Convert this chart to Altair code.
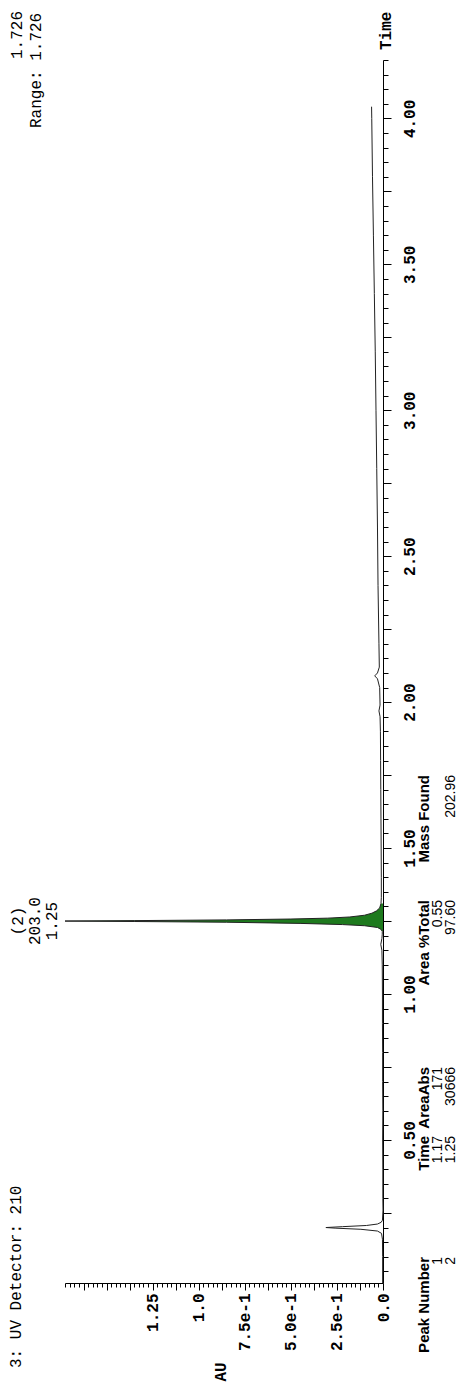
import altair as alt
import pandas as pd

# ---------------- data ----------------
TRACE_TIME = [0.01, 0.10, 0.16, 0.180, 0.188, 0.194, 0.198, 0.200, 0.203, 0.207, 0.212, 0.218, 0.225,
              0.26, 0.30, 0.40, 0.50, 0.60, 0.70, 0.80, 0.90, 1.00, 1.10, 1.15, 1.17, 1.19, 1.205,
              1.215, 1.222, 1.228, 1.234, 1.238, 1.242, 1.246, 1.2485, 1.250, 1.2515, 1.254, 1.257,
              1.260, 1.264, 1.270, 1.277, 1.285, 1.295, 1.31, 1.33, 1.40, 1.50, 1.60, 1.70, 1.80,
              1.90, 1.95, 1.97, 1.99, 2.05, 2.08, 2.09, 2.10, 2.12, 2.20, 2.40, 2.60, 2.80, 3.00,
              3.20, 3.40, 3.60, 3.80, 4.00, 4.04]
TRACE_AU = [0.002, 0.002, 0.003, 0.008, 0.03, 0.12, 0.26, 0.31, 0.22, 0.09, 0.03, 0.01, 0.003,
            0.0, 0.001, 0.001, 0.002, 0.001, 0.002, 0.002, 0.003, 0.003, 0.004, 0.006, 0.012, 0.006, 0.004,
            0.004, 0.012, 0.03, 0.10, 0.22, 0.45, 0.85, 1.35, 1.726, 1.35, 0.85, 0.50,
            0.30, 0.18, 0.10, 0.06, 0.035, 0.018, 0.011, 0.009, 0.009, 0.010, 0.011, 0.012, 0.013,
            0.014, 0.016, 0.022, 0.016, 0.018, 0.03, 0.045, 0.03, 0.02, 0.022, 0.027, 0.030, 0.034, 0.038,
            0.042, 0.047, 0.052, 0.057, 0.061, 0.062]

PEAK_START = 1.215   # integrated (green) region of peak 2
PEAK_END = 1.31

APEX_TIME = [1.25]
APEX_AU = [1.726]
APEX_LINES = ["(2)", "203.0", "1.25"]

TABLE_HEADERS = ["Peak Number", "Time", "AreaAbs", "Area %Total", "Mass Found"]
TABLE_ROW1 = ["1", "1.17", "171", "0.55", ""]
TABLE_ROW2 = ["2", "1.25", "30666", "97.60", "202.96"]

AU_LABEL_VALUES = [0.0, 0.25, 0.5, 0.75, 1.0, 1.25]
AU_LABEL_TEXTS = ["0.0", "2.5e-1", "5.0e-1", "7.5e-1", "1.0", "1.25"]

TITLE_TEXT = "3: UV Detector: 210"
RANGE_TEXT = "Range: 1.726"
MAX_TEXT = "1.726"

# ---------------- layout ----------------
PAD_L, PAD_T, PAD_R, PAD_B = 57, 52, 80, 99
W, H = 318, 1223


def px(page_x):
    return page_x - 8 - PAD_L


def py(page_y):
    return page_y - 8 - PAD_T


MONO = "Liberation Mono"
SANS = "Liberation Sans"

trace = pd.DataFrame({"time": TRACE_TIME, "au": TRACE_AU})
fill = trace[(trace.time >= PEAK_START) & (trace.time <= PEAK_END)]
apex = pd.DataFrame({"time": APEX_TIME, "au": APEX_AU, "label": ["\n".join(APEX_LINES)]})

# axes
time_ticks = [round(0.05 * i, 2) for i in range(1, 85)]
time_axis = alt.Axis(
    orient="right", values=time_ticks, title=None, grid=False,
    labelExpr="round(datum.value*100) % 50 == 0 ? format(datum.value, '.2f') : ''",
    tickSize={"condition": {"test": "round(datum.value*100) % 25 == 0", "value": 8}, "value": 5},
    labelAngle=270, labelAlign="center", labelBaseline="middle", labelPadding=18,
    labelFont=MONO, labelFontSize=16, labelFontWeight="bold", labelColor="black",
    labelOverlap=False, labelFlush=False, tickColor="black", domainColor="black",
)

au_expr = "''"
for v, t in reversed(list(zip(AU_LABEL_VALUES, AU_LABEL_TEXTS))):
    au_expr = f"round(datum.value*1000) == {int(round(v * 1000))} ? '{t}' : " + au_expr
au_ticks = [round(0.025 * i, 3) for i in range(0, 70)]
au_axis = alt.Axis(
    orient="bottom", values=au_ticks, title=None, grid=False,
    labelExpr=au_expr,
    tickSize={"condition": {"test": "round(datum.value*1000) % 125 == 0", "value": 7}, "value": 4},
    labelAngle=270, labelAlign="right", labelBaseline="middle", labelPadding=3,
    labelFont=MONO, labelFontSize=16, labelFontWeight="bold", labelColor="black",
    labelOverlap=False, labelFlush=False, tickColor="black", domainColor="black",
)

xs = alt.Scale(domain=[0, 1.726], reverse=True, nice=False, zero=False)
ys = alt.Scale(domain=[0.01, 4.2], nice=False, zero=False)
X = alt.X("au:Q", scale=xs, axis=au_axis)
Y = alt.Y("time:Q", scale=ys, axis=time_axis)

area = alt.Chart(fill).mark_area(orient="horizontal", color="#1e7a1e").encode(x=X, y=Y)
line = alt.Chart(trace).mark_line(color="#222222", strokeWidth=1).encode(x=X, y=Y, order="time:Q")
ann = alt.Chart(apex).mark_text(
    angle=270, align="center", baseline="middle", lineBreak="\n", lineHeight=17, dy=-47,
    font=MONO, fontSize=16, color="black"
).encode(x=X, y=Y, text="label:N")


def label_layer(text, page_x, page_y, align, size, weight, font):
    return alt.Chart(pd.DataFrame({"label": [text]})).mark_text(
        angle=270, align=align, baseline="middle", font=font, fontSize=size,
        fontWeight=weight, color="black"
    ).encode(x=alt.value(px(page_x)), y=alt.value(py(page_y)), text="label:N")


layers = [area, line, ann]
layers.append(label_layer(TITLE_TEXT, 16, 1368, "left", 16, "normal", MONO))
layers.append(label_layer(MAX_TEXT, 17, 59, "left", 16, "normal", MONO))
layers.append(label_layer(RANGE_TEXT, 36, 128, "left", 16, "normal", MONO))
layers.append(label_layer("Time", 386, 50, "left", 16, "bold", MONO))
layers.append(label_layer("AU", 221, 1372, "center", 16, "bold", MONO))

col_top = [1257, 1136, 1067, 900, 775]
row_x = [424, 438, 451]
for j in range(len(TABLE_HEADERS)):
    for r, row in enumerate([TABLE_HEADERS, TABLE_ROW1, TABLE_ROW2]):
        txt = row[j]
        if not txt:
            continue
        layers.append(label_layer(txt, row_x[r], col_top[j], "right",
                                  15 if r == 0 else 14,
                                  "bold" if r == 0 else "normal", SANS))

chart = alt.layer(*layers).properties(
    width=W, height=H,
    autosize=alt.AutoSizeParams(type="none"),
    padding={"left": PAD_L, "top": PAD_T, "right": PAD_R, "bottom": PAD_B},
    background="white",
).configure_view(stroke=None)

chart.save("out.html", embed_options={"renderer": "svg", "actions": False})
